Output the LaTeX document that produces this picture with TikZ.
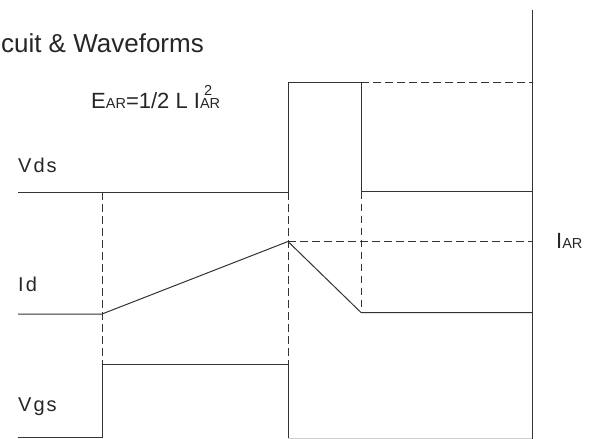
\documentclass[tikz,border=0pt]{standalone}
\usepackage{fontspec}
\setmainfont{Liberation Sans}
\newfontfamily\lblfont[LetterSpace=10]{Liberation Sans}
\newcommand{\subfnt}{\fontsize{14.5}{15}\selectfont}
\begin{document}
\begin{tikzpicture}[x=1pt,y=-1pt,
  wave/.style={line width=1pt,draw=black!80,line join=miter},
  guide/.style={line width=1pt,draw=black!80,dash pattern=on 7.5pt off 4.5pt},
  faint/.style={line width=0.8pt,draw=black!20},
  lbl/.style={anchor=base west,inner sep=0pt,text=black!85,font=\lblfont\fontsize{20}{24}\selectfont},
  formula/.style={anchor=base west,inner sep=0pt,text=black!85,font=\fontsize{22}{24}\selectfont},
  titlestyle/.style={anchor=base east,inner sep=0pt,text=black!85,font=\fontsize{26}{28}\selectfont}]
\useasboundingbox (0,0) rectangle (597,439);

% key coordinates
\coordinate (vdsA) at (18,192);
\coordinate (vdsB) at (288,192);
\coordinate (vdsC) at (288,82);
\coordinate (vdsD) at (361,82);
\coordinate (vdsE) at (361,191.5);
\coordinate (vdsF) at (532,191.5);
\coordinate (axT) at (532,10);
\coordinate (axB) at (532,439);
\coordinate (topR) at (532,82);
\coordinate (idA) at (18,314);
\coordinate (idB) at (102,314);
\coordinate (idC) at (288,241.5);
\coordinate (idD) at (361,312.5);
\coordinate (idE) at (532,312.5);
\coordinate (iarR) at (532,241.5);
\coordinate (vgsA) at (18,437.5);
\coordinate (vgsB) at (102,437.5);
\coordinate (vgsC) at (102,364);
\coordinate (vgsD) at (288,364);
\coordinate (vgsE) at (288,438);
\coordinate (g1) at (102,192);
\coordinate (botR) at (532,438.5);
\coordinate (botL) at (288,438.5);

% faint bottom edge
\draw[faint] (botL) -- (botR);

% dashed guides
\draw[guide] (vdsD) -- (topR);
\draw[guide] (idC) -- (iarR);
\draw[guide] (g1) -- (vgsC);
\draw[guide] (vdsB) -- (vgsD);
\draw[guide] (vdsE) -- (idD);

% waveforms
\draw[wave] (vdsA) -- (vdsB) -- (vdsC) -- (vdsD) -- (vdsE) -- (vdsF);
\draw[wave] (axT) -- (axB);
\draw[wave] (idA) -- (idB) -- (idC) -- (idD) -- (idE);
\draw[wave] (vgsA) -- (vgsB) -- (vgsC) -- (vgsD) -- (vgsE);

% texts
\node[titlestyle] (title) at (204,52) {cuit \& Waveforms};
\node[formula] (ear) at (91,108) {E{\subfnt AR}=1/2 L I{\subfnt\rlap{\hspace{4pt}\raisebox{13pt}{2}}AR}};
\node[lbl] (vds) at (18,172) {Vds};
\node[lbl] (id) at (18,291) {Id};
\node[lbl] (vgs) at (18,411) {Vgs};
\node[formula] (iar) at (556,248) {I{\subfnt AR}};
\end{tikzpicture}
\end{document}
